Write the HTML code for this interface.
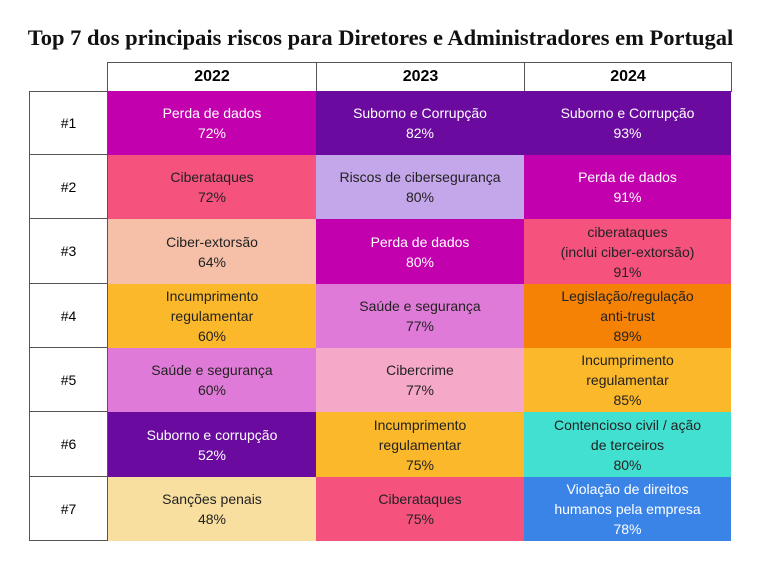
<!DOCTYPE html>
<html><head><meta charset="utf-8"><style>
body{margin:0;width:761px;height:561px;background:#fff;position:relative;overflow:hidden;font-family:"Liberation Sans",sans-serif}
.t{position:absolute;left:0;width:761px;top:25px;text-align:center;font-family:"Liberation Serif",serif;font-weight:bold;font-size:22.5px;color:#111;white-space:nowrap}
.c{position:absolute;display:flex;align-items:center;justify-content:center;text-align:center;font-size:14px;line-height:20px;color:#222;box-sizing:border-box}
.h{border:1px solid #555;font-weight:bold;font-size:16px;color:#000}
.l{border:1px solid #555;border-top:none;color:#000}
.w{color:#fff}
</style></head><body>
<div class="t">Top 7 dos principais riscos para Diretores e Administradores em Portugal</div>
<div class="c h" style="left:107px;top:62px;width:210px;height:30px">2022</div>
<div class="c h" style="left:316px;top:62px;width:209px;height:30px">2023</div>
<div class="c h" style="left:524px;top:62px;width:208px;height:30px">2024</div>
<div class="c l" style="left:29px;top:91px;width:79px;height:64px;border-top:1px solid #555">#1</div>
<div class="c l" style="left:29px;top:155px;width:79px;height:64px">#2</div>
<div class="c l" style="left:29px;top:219px;width:79px;height:65px">#3</div>
<div class="c l" style="left:29px;top:284px;width:79px;height:64px">#4</div>
<div class="c l" style="left:29px;top:348px;width:79px;height:64px">#5</div>
<div class="c l" style="left:29px;top:412px;width:79px;height:65px">#6</div>
<div class="c l" style="left:29px;top:477px;width:79px;height:64px">#7</div>

<div class="c w" style="left:108px;top:91px;width:208px;height:64px;background:#c200ae">Perda de dados<br>72%</div>
<div class="c w" style="left:316px;top:91px;width:208px;height:64px;background:#6a0a9e">Suborno e Corrupção<br>82%</div>
<div class="c w" style="left:524px;top:91px;width:207px;height:64px;background:#6a0a9e">Suborno e Corrupção<br>93%</div>

<div class="c" style="left:108px;top:155px;width:208px;height:64px;background:#f5527e">Ciberataques<br>72%</div>
<div class="c" style="left:316px;top:155px;width:208px;height:64px;background:#c4a6ea">Riscos de cibersegurança<br>80%</div>
<div class="c w" style="left:524px;top:155px;width:207px;height:64px;background:#c200ae">Perda de dados<br>91%</div>

<div class="c" style="left:108px;top:219px;width:208px;height:65px;background:#f6c0a8">Ciber-extorsão<br>64%</div>
<div class="c w" style="left:316px;top:219px;width:208px;height:65px;background:#c200ae">Perda de dados<br>80%</div>
<div class="c" style="left:524px;top:219px;width:207px;height:65px;background:#f5527e">ciberataques<br>(inclui ciber-extorsão)<br>91%</div>

<div class="c" style="left:108px;top:284px;width:208px;height:64px;background:#fbb82a">Incumprimento<br>regulamentar<br>60%</div>
<div class="c" style="left:316px;top:284px;width:208px;height:64px;background:#e07ad8">Saúde e segurança<br>77%</div>
<div class="c" style="left:524px;top:284px;width:207px;height:64px;background:#f58204">Legislação/regulação<br>anti-trust<br>89%</div>

<div class="c" style="left:108px;top:348px;width:208px;height:64px;background:#e07ad8">Saúde e segurança<br>60%</div>
<div class="c" style="left:316px;top:348px;width:208px;height:64px;background:#f6a8c8">Cibercrime<br>77%</div>
<div class="c" style="left:524px;top:348px;width:207px;height:64px;background:#fbb82a">Incumprimento<br>regulamentar<br>85%</div>

<div class="c w" style="left:108px;top:412px;width:208px;height:65px;background:#6a0a9e">Suborno e corrupção<br>52%</div>
<div class="c" style="left:316px;top:412px;width:208px;height:65px;background:#fbb82a">Incumprimento<br>regulamentar<br>75%</div>
<div class="c" style="left:524px;top:412px;width:207px;height:65px;background:#42e0d0">Contencioso civil / ação<br>de terceiros<br>80%</div>

<div class="c" style="left:108px;top:477px;width:208px;height:64px;background:#f8dfa0">Sanções penais<br>48%</div>
<div class="c" style="left:316px;top:477px;width:208px;height:64px;background:#f5527e">Ciberataques<br>75%</div>
<div class="c w" style="left:524px;top:477px;width:207px;height:64px;background:#3a84e8">Violação de direitos<br>humanos pela empresa<br>78%</div>
</body></html>
